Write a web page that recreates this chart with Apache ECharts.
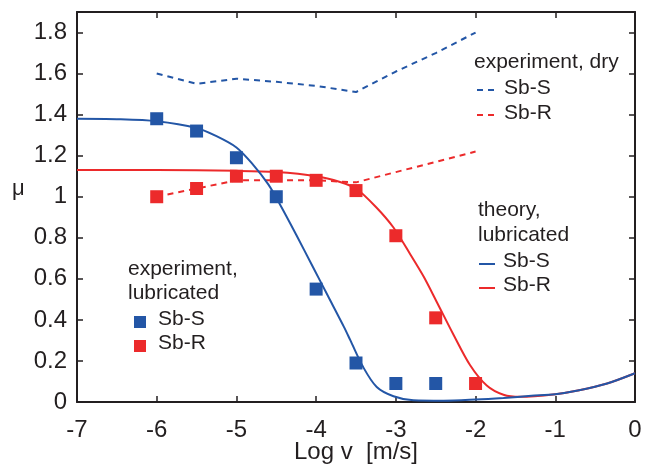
<!DOCTYPE html>
<html>
<head>
<meta charset="utf-8">
<script src="https://cdn.jsdelivr.net/npm/echarts@6/dist/echarts.min.js"></script>
<style>
  html, body { margin: 0; padding: 0; background: #fff; }
  #chart { width: 662px; height: 468px; }
</style>
</head>
<body>
<div id="chart"></div>
<script>
// Friction coefficient vs. sliding velocity (log scale)
const xTicks = [-7, -6, -5, -4, -3, -2, -1, 0];

// Lubricated experiments (squares)
const expLogV = [-6, -5.5, -5, -4.5, -4, -3.5, -3, -2.5, -2];
const expLubS = [1.38, 1.32, 1.19, 1.00, 0.55, 0.19, 0.09, 0.09, null];
const expLubR = [1.00, 1.04, 1.10, 1.10, 1.08, 1.03, 0.81, 0.41, 0.09];

// Dry experiments (dashed)
const dryLogV = [-6, -5.5, -5, -4.5, -4, -3.5, -3, -2.5, -2];
const dryS = [1.60, 1.55, 1.575, 1.56, 1.54, 1.51, 1.61, 1.70, 1.80];
const dryR = [1.00, 1.04, 1.08, 1.08, 1.08, 1.07, 1.12, 1.17, 1.22];

// Theory, lubricated (solid curves)
const theoryLogVS = [-7, -6.5, -6, -5.5, -5.25, -5, -4.8, -4.6, -4.45, -4.25, -4.05, -3.85, -3.65, -3.57, -3.41, -3.24, -3.03, -2.78, -2.4, -2.0, -1.65, -1.3, -1.0, -0.7, -0.35, 0];
const theoryS = [1.38, 1.378, 1.368, 1.335, 1.295, 1.24, 1.16, 1.06, 0.96, 0.815, 0.665, 0.515, 0.365, 0.30, 0.17, 0.073, 0.028, 0.008, 0.006, 0.012, 0.02, 0.03, 0.038, 0.057, 0.09, 0.14];
const theoryLogVR = [-7, -6, -5, -4.5, -4, -3.7, -3.5, -3.25, -3.03, -2.82, -2.65, -2.49, -2.28, -2.07, -1.86, -1.65, -1.44, -1.0, -0.7, -0.35, 0];
const theoryR = [1.13, 1.13, 1.126, 1.12, 1.10, 1.072, 1.04, 0.95, 0.85, 0.72, 0.61, 0.49, 0.33, 0.18, 0.08, 0.035, 0.025, 0.038, 0.057, 0.09, 0.14];

const BLUE = '#2356a6';
const RED = '#ec2a2b';
const INK = '#231f20';
const FONT = '"Liberation Sans", Arial, sans-serif';

const pairs = (xs, ys) => xs.map((x, i) => [x, ys[i]]).filter(p => p[1] !== null);

const chart = echarts.init(document.getElementById('chart'), null, { renderer: 'canvas' });

// Frame axis with inward ticks; a fresh object for every axis
function frameAxis(extra) {
  return Object.assign({
    type: 'value',
    axisLine: { show: true, onZero: false, lineStyle: { color: INK, width: 2 } },
    axisTick: { show: true, inside: true, length: 6, lineStyle: { color: INK, width: 1.5 } },
    splitLine: { show: false }
  }, extra);
}

const legendText = (text, x, y) => ({
  type: 'text', left: x, top: y - 12,
  style: { text, fontSize: 21, fontFamily: FONT, fill: INK }
});

chart.setOption({
  animation: false,
  backgroundColor: '#fff',
  grid: { left: 77, right: 27, top: 12, bottom: 66, outerBoundsMode: 'none', containLabel: false },
  xAxis: [
    frameAxis({
      min: -7, max: 0, interval: 1, position: 'bottom',
      name: 'Log v  [m/s]', nameLocation: 'middle', nameGap: 38, nameMoveOverlap: false,
      nameTextStyle: { fontSize: 24, fontFamily: FONT, color: INK },
      axisLabel: { fontSize: 24, fontFamily: FONT, color: INK, margin: 16,
        formatter: v => xTicks.includes(v) ? String(v) : '' }
    }),
    frameAxis({
      min: -7, max: 0, interval: 1, position: 'top',
      axisLabel: { show: false }
    })
  ],
  yAxis: [
    frameAxis({
      min: 0, max: 1.9, interval: 0.2, position: 'left',
      axisLabel: { fontSize: 24, fontFamily: FONT, color: INK, margin: 10,
        formatter: v => Math.abs(v - 1.9) < 1e-6 ? '' : String(+v.toFixed(1)) }
    }),
    frameAxis({
      min: 0, max: 1.9, interval: 0.2, position: 'right',
      axisLabel: { show: false }
    })
  ],
  series: [
    { name: 'dry Sb-S', type: 'line', data: pairs(dryLogV, dryS), showSymbol: false,
      lineStyle: { color: BLUE, width: 2, type: [6, 5] }, z: 2 },
    { name: 'dry Sb-R', type: 'line', data: pairs(dryLogV, dryR), showSymbol: false,
      lineStyle: { color: RED, width: 2, type: [6, 5] }, z: 2 },
    { name: 'theory Sb-R', type: 'line', data: pairs(theoryLogVR, theoryR), showSymbol: false,
      smooth: 0.3, lineStyle: { color: RED, width: 2 }, z: 3 },
    { name: 'theory Sb-S', type: 'line', data: pairs(theoryLogVS, theoryS), showSymbol: false,
      smooth: 0.3, lineStyle: { color: BLUE, width: 2 }, z: 3 },
    { name: 'lub Sb-S', type: 'scatter', data: pairs(expLogV, expLubS), symbol: 'rect',
      symbolSize: 13, itemStyle: { color: BLUE, opacity: 1 }, z: 4 },
    { name: 'lub Sb-R', type: 'scatter', data: pairs(expLogV, expLubR), symbol: 'rect',
      symbolSize: 13, itemStyle: { color: RED, opacity: 1 }, z: 4 }
  ],
  graphic: [
    // y axis symbol
    { type: 'text', left: 12, top: 178, style: { text: 'μ', fontSize: 22, fontFamily: FONT, fill: INK } },
    // dry legend
    legendText('experiment, dry', 474, 64),
    { type: 'line', shape: { x1: 477, y1: 90, x2: 494, y2: 90 }, style: { stroke: BLUE, lineWidth: 2, lineDash: [6, 5] } },
    legendText('Sb-S', 504, 90),
    { type: 'line', shape: { x1: 477, y1: 115, x2: 494, y2: 115 }, style: { stroke: RED, lineWidth: 2, lineDash: [6, 5] } },
    legendText('Sb-R', 504, 115),
    // theory legend
    legendText('theory,', 478, 212),
    legendText('lubricated', 478, 237),
    { type: 'line', shape: { x1: 479, y1: 264, x2: 495, y2: 264 }, style: { stroke: BLUE, lineWidth: 2 } },
    legendText('Sb-S', 503, 263),
    { type: 'line', shape: { x1: 479, y1: 288, x2: 495, y2: 288 }, style: { stroke: RED, lineWidth: 2 } },
    legendText('Sb-R', 503, 287),
    // lubricated experiment legend
    legendText('experiment,', 128, 271),
    legendText('lubricated', 128, 295),
    { type: 'rect', shape: { x: 134, y: 316, width: 12, height: 12 }, style: { fill: BLUE } },
    legendText('Sb-S', 158, 321),
    { type: 'rect', shape: { x: 134, y: 340, width: 12, height: 12 }, style: { fill: RED } },
    legendText('Sb-R', 158, 345)
  ]
});
</script>
</body>
</html>
